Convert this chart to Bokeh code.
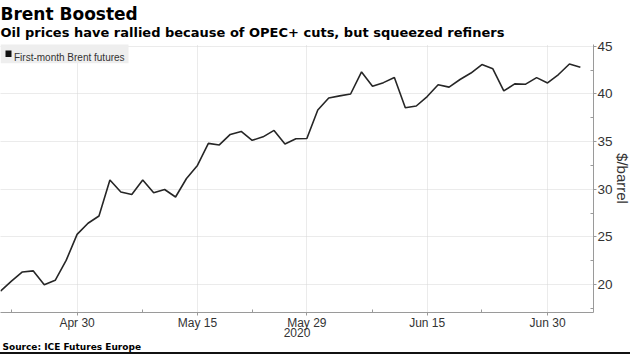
import numpy as np
from bokeh.plotting import figure
from bokeh.models import Range1d, FixedTicker, Label, BoxAnnotation, ColumnDataSource, Title
from bokeh.embed import file_html
from bokeh.resources import INLINE

# ---- data (first-month Brent futures, $/barrel, trading days) ----
dates = ["2020-04-21", "2020-04-22", "2020-04-23", "2020-04-24", "2020-04-27", "2020-04-28",
         "2020-04-29", "2020-04-30", "2020-05-01", "2020-05-04", "2020-05-05", "2020-05-06",
         "2020-05-07", "2020-05-08", "2020-05-11", "2020-05-12", "2020-05-13", "2020-05-14",
         "2020-05-15", "2020-05-18", "2020-05-19", "2020-05-20", "2020-05-21", "2020-05-22",
         "2020-05-25", "2020-05-26", "2020-05-27", "2020-05-28", "2020-05-29", "2020-06-01",
         "2020-06-02", "2020-06-03", "2020-06-04", "2020-06-05", "2020-06-08", "2020-06-09",
         "2020-06-10", "2020-06-11", "2020-06-12", "2020-06-15", "2020-06-16", "2020-06-17",
         "2020-06-18", "2020-06-19", "2020-06-22", "2020-06-23", "2020-06-24", "2020-06-25",
         "2020-06-26", "2020-06-29", "2020-06-30", "2020-07-01", "2020-07-02", "2020-07-03"]
brent = [19.33, 20.37, 21.33, 21.44, 19.99, 20.46,
         22.54, 25.27, 26.44, 27.20, 30.97, 29.72,
         29.46, 30.97, 29.63, 29.98, 29.19, 31.13,
         32.50, 34.81, 34.65, 35.75, 36.06, 35.13,
         35.50, 36.17, 34.74, 35.29, 35.33, 38.32,
         39.57, 39.79, 39.99, 42.30, 40.80, 41.18,
         41.73, 38.55, 38.73, 39.72, 40.96, 40.71,
         41.51, 42.19, 43.08, 42.63, 40.31, 41.05,
         41.02, 41.71, 41.15, 42.03, 43.14, 42.80]

x_tick_dates = ["2020-04-30", "2020-05-15", "2020-05-29", "2020-06-15", "2020-06-30"]
x_tick_labels = ["Apr 30", "May 15", "May 29", "Jun 15", "Jun 30"]
x_minor_dates = ["2020-04-22", "2020-05-08", "2020-05-22", "2020-06-08", "2020-06-22"]
y_ticks = [20, 25, 30, 35, 40, 45]
y_minor_ticks = [17.5, 22.5, 27.5, 32.5, 37.5, 42.5]

title = "Brent Boosted"
subtitle = "Oil prices have rallied because of OPEC+ cuts, but squeezed refiners"
series_name = "First-month Brent futures"
y_label = "$/barrel"
year_label = "2020"
source_text = "Source: ICE Futures Europe"

# ---- build ----
idx = {d: i for i, d in enumerate(dates)}
x = np.arange(len(dates))
src = ColumnDataSource(dict(x=x, y=brent))

TOP, BOTTOM, LEFT, RIGHT = 44, 42, 0, 37
FW, FH = 593, 268
FB = TOP + FH  # canvas y of frame bottom

p = figure(width=None, height=None, frame_width=FW, frame_height=FH,
           output_backend="svg", toolbar_location=None, title=None,
           x_range=Range1d(0, 54.2), y_range=Range1d(17.08, 45.18),
           y_axis_location="right",
           min_border_top=TOP, min_border_bottom=BOTTOM,
           min_border_left=LEFT, min_border_right=RIGHT)
p.outline_line_color = None
p.background_fill_color = "white"
p.border_fill_color = None
p.styles = {"box-shadow": "inset -2px -2px 0 0 #111111", "background-color": "white"}

tick_font = "Liberation Sans"

xt = [idx[d] for d in x_tick_dates]
p.xaxis.ticker = FixedTicker(ticks=xt, minor_ticks=[idx[d] for d in x_minor_dates])
p.xaxis.major_label_overrides = {t: l for t, l in zip(xt, x_tick_labels)}
p.yaxis.ticker = FixedTicker(ticks=y_ticks, minor_ticks=y_minor_ticks)

for ax in (p.xaxis[0], p.yaxis[0]):
    ax.axis_line_color = "#9a9a9a"
    ax.axis_line_width = 1
    ax.major_tick_line_color = "#9a9a9a"
    ax.minor_tick_line_color = "#9a9a9a"
    ax.major_tick_in = 0
    ax.major_tick_out = 3
    ax.minor_tick_in = 3
    ax.minor_tick_out = 0
    ax.major_label_text_font = tick_font
    ax.major_label_text_color = "#333333"
    ax.axis_label_text_font = tick_font
    ax.axis_label_text_color = "#333333"
    ax.axis_label_text_font_style = "normal"

p.xaxis.major_label_text_font_size = "12px"
p.xaxis.major_label_standoff = 0
p.xaxis.axis_label = year_label
p.xaxis.axis_label_text_font_size = "12px"
p.xaxis.axis_label_standoff = -5

p.yaxis.major_label_text_font_size = "13.5px"
p.yaxis.major_label_standoff = 1
p.yaxis.axis_label = y_label
p.yaxis.axis_label_text_font_size = "15px"
p.yaxis.axis_label_standoff = -2

p.xgrid.grid_line_color = "#d6d6d6"
p.xgrid.grid_line_dash = "1 1"
p.ygrid.grid_line_color = "#d6d6d6"
p.ygrid.grid_line_dash = "1 1"

p.line("x", "y", source=src, line_color="#262626", line_width=1.6)

# legend box
p.add_layout(BoxAnnotation(left=0, right=128, top=FB - 42.7, bottom=FB - 62.7,
                           left_units="screen", right_units="screen",
                           top_units="screen", bottom_units="screen",
                           fill_color="#eeeeee", fill_alpha=1, line_color=None))
p.add_layout(BoxAnnotation(left=5, right=11, top=FB - 50, bottom=FB - 56.5,
                           left_units="screen", right_units="screen",
                           top_units="screen", bottom_units="screen",
                           fill_color="#111111", fill_alpha=1, line_color=None))
p.add_layout(Label(x=13.5, y=FB - 57.3, x_units="screen", y_units="screen", text=series_name,
                   text_font=tick_font, text_font_size="10px", text_color="#333333",
                   text_baseline="alphabetic"))

# titles (first added to "above" sits nearest the frame)
p.add_layout(Title(text=subtitle, align="left", offset=0, standoff=6, vertical_align="top",
                   text_font="DejaVu Sans", text_font_style="bold", text_font_size="13px",
                   text_color="#000000"), "above")
p.add_layout(Title(text=title, align="left", offset=0, standoff=-5, vertical_align="bottom",
                   text_font="DejaVu Sans", text_font_style="bold", text_font_size="17px",
                   text_color="#000000"), "above")
p.add_layout(Title(text=" ", align="left", offset=0, standoff=0,
                   text_font="DejaVu Sans", text_font_size="1px"), "above")
# source below the x axis
p.add_layout(Title(text=source_text, align="left", offset=2, standoff=0,
                   text_font="DejaVu Sans", text_font_style="bold", text_font_size="9px",
                   text_color="#000000"), "below")

open("out.html", "w").write(file_html(p, INLINE))
